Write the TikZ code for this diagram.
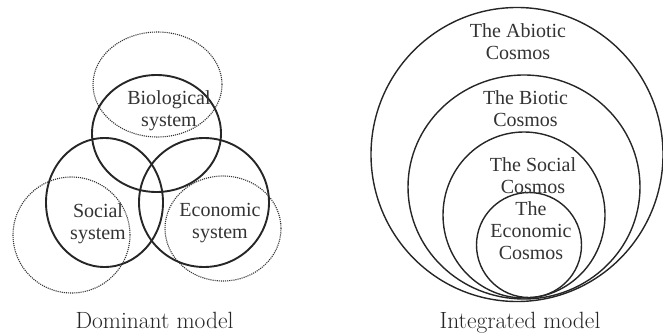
\documentclass[tikz,border=0pt]{standalone}
\usepackage{fontspec}
\newfontfamily\timesfont{Liberation Serif}
\usetikzlibrary{shapes.geometric}
\begin{document}
\begin{tikzpicture}[x=1pt,y=-1pt,
  solidring/.style={draw=black!85, line width=1.9pt, ellipse, inner sep=0pt},
  dotring/.style={draw=black!80, line width=1.1pt, densely dotted, ellipse, inner sep=0pt},
  nestring/.style={draw=black!85, line width=1.4pt, ellipse, inner sep=0pt},
  lbl/.style={font=\timesfont\fontsize{20}{22}\selectfont, text=black!80, align=center, inner sep=0pt},
  captext/.style={font=\fontsize{23.5}{26}\selectfont, text=black!85, anchor=base, inner sep=0pt}]
\useasboundingbox (0,0) rectangle (663,332);
% Dominant model
\node[dotring, minimum width=129pt, minimum height=105pt] (dbio) at (157.5,84.5) {};
\node[dotring, minimum width=117pt, minimum height=116pt] (dsoc) at (71.5,235) {};
\node[dotring, minimum width=116pt, minimum height=105pt] (deco) at (223,228.5) {};
\node[solidring, minimum width=129pt, minimum height=117pt] (bio) at (156.5,133.5) {};
\node[solidring, minimum width=117pt, minimum height=129pt] (soc) at (104.5,202.5) {};
\node[solidring, minimum width=130pt, minimum height=129pt] (eco) at (204,202.5) {};
\node[lbl] (tbio) at (169,110.5) {Biological\\system};
\node[lbl] (tsoc) at (98,223.5) {Social\\system};
\node[lbl] (teco) at (220,223.5) {Economic\\system};
\node[captext] (cdom) at (154.5,328) {Dominant model};
% Integrated model
\node[nestring, minimum width=292pt, minimum height=294pt] (abio) at (517,154.5) {};
\node[nestring, minimum width=232pt, minimum height=224pt] (biot) at (524,187) {};
\node[nestring, minimum width=162pt, minimum height=166pt] (socc) at (524,215) {};
\node[nestring, minimum width=105pt, minimum height=105pt] (ecoc) at (529,245) {};
\node[lbl] (tabio) at (518,41.7) {The Abiotic\\Cosmos};
\node[lbl] (tbiot) at (525.5,109) {The Biotic\\Cosmos};
\node[lbl] (tsocc) at (533,175.5) {The Social\\Cosmos};
\node[lbl] (tecoc) at (531,231) {The\\Economic\\Cosmos};
\node[captext] (cint) at (520,328) {Integrated model};
\end{tikzpicture}
\end{document}
